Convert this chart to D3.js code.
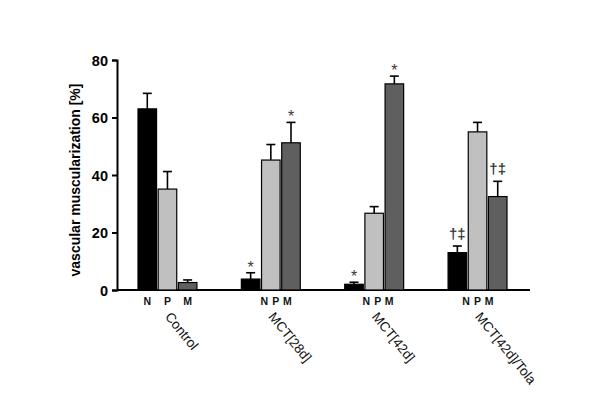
<!DOCTYPE html>
<html>
<head>
<meta charset="utf-8">
<script src="https://cdn.jsdelivr.net/npm/d3@7"></script>
<style>
  body { margin: 0; background: #fff; }
  text { font-family: Arial, "Liberation Sans", sans-serif; }
</style>
</head>
<body>
<div id="chart"></div>
<script>
// Vascular muscularization bar chart (N / P / M per group)

const groups = ["Control", "MCT[28d]", "MCT[42d]", "MCT[42d]/Tola"];
const types = ["N", "P", "M"];
const means = [
    [63.0, 35.1, 2.6],
    [3.8, 45.2, 51.2],
    [2.0, 26.7, 71.7],
    [13.0, 55.0, 32.5]
];
const errors = [
    [5.4, 6.1, 0.9],
    [2.2, 5.4, 7.1],
    [0.7, 2.3, 2.7],
    [2.3, 3.3, 5.3]
];
// significance marks above each bar
const marks = [
    ["", "", ""],
    ["*", "", "*"],
    ["*", "", "*"],
    ["†‡", "", "†‡"]
];
// where the N P M letters sit under each group (offset from group centre)
const labelShift = [0, 5, 3.5, 0];
const yTicks = [0, 20, 40, 60, 80];
const fills = { N: "#000000", P: "#c0c0c0", M: "#5f5f5f" };

const width = 600, height = 420;
const margin = { left: 117, right: 70, top: 60, bottom: 130 };

const svg = d3.select("#chart").append("svg")
    .attr("width", width)
    .attr("height", height);

const x0 = d3.scaleBand()
    .domain(groups)
    .range([138, 507])
    .paddingInner(0.43)
    .paddingOuter(0);

const x1 = d3.scaleBand()
    .domain(types)
    .range([0, x0.bandwidth()])
    .paddingInner(0.08);

const y = d3.scaleLinear()
    .domain([0, 80])
    .range([height - margin.bottom, margin.top]);

// y axis
const yAxis = svg.append("g")
    .attr("transform", `translate(${margin.left},0)`)
    .call(d3.axisLeft(y).tickValues(yTicks).tickSize(5).tickPadding(4));
yAxis.select(".domain").attr("stroke-width", 2);
yAxis.selectAll(".tick line").attr("stroke-width", 2);
yAxis.selectAll(".tick text")
    .attr("font-size", 14.5)
    .attr("font-weight", "bold")
    .attr("font-family", "Arial, 'Liberation Sans', sans-serif")
    .attr("dy", "0.36em");

// x baseline
svg.append("line")
    .attr("x1", margin.left)
    .attr("x2", width - margin.right)
    .attr("y1", y(0))
    .attr("y2", y(0))
    .attr("stroke", "#000")
    .attr("stroke-width", 2);

svg.append("text")
    .attr("transform", `translate(80,${(y(0) + y(80)) / 2 + 5}) rotate(-90)`)
    .attr("text-anchor", "middle")
    .attr("font-size", 14)
    .attr("font-weight", "bold")
    .text("vascular muscularization [%]");

const rows = [];
groups.forEach((g, gi) => {
    types.forEach((t, ti) => {
        rows.push({ g, t, v: means[gi][ti], e: errors[gi][ti], m: marks[gi][ti] });
    });
});

const barG = svg.append("g");
const cx = d => x0(d.g) + x1(d.t) + x1.bandwidth() / 2;

// error bars (drawn under the bars)
const errG = barG.selectAll("g.err")
    .data(rows)
    .join("g")
    .attr("class", "err")
    .attr("stroke", "#000")
    .attr("stroke-width", 1.6);
errG.append("line")
    .attr("x1", cx)
    .attr("x2", cx)
    .attr("y1", d => y(d.v))
    .attr("y2", d => y(d.v + d.e));
errG.append("line")
    .attr("x1", d => cx(d) - 4.5)
    .attr("x2", d => cx(d) + 4.5)
    .attr("y1", d => y(d.v + d.e))
    .attr("y2", d => y(d.v + d.e));

barG.selectAll("rect")
    .data(rows)
    .join("rect")
    .attr("x", d => x0(d.g) + x1(d.t))
    .attr("width", x1.bandwidth())
    .attr("y", d => y(d.v))
    .attr("height", d => y(0) - y(d.v))
    .attr("fill", d => fills[d.t])
    .attr("stroke", "#000")
    .attr("stroke-width", 1.2);

// significance marks
barG.selectAll("text.sig")
    .data(rows.filter(d => d.m))
    .join("text")
    .attr("class", "sig")
    .attr("x", cx)
    .attr("y", d => y(d.v + d.e) - (d.m === "*" ? 0 : 7))
    .attr("text-anchor", "middle")
    .attr("font-size", d => d.m === "*" ? 16 : 15)
    .attr("font-weight", d => d.m === "*" ? "normal" : "bold")
    .attr("fill", "#3a3a3a")
    .text(d => d.m);

// N P M labels under each group
const labelRows = [];
groups.forEach((g, gi) => {
    types.forEach((t, ti) => {
        const center = x0(g) + x0.bandwidth() / 2;
        const xPos = gi === 0
            ? x0(g) + x1(t) + x1.bandwidth() / 2
            : center + labelShift[gi] + (ti - 1) * 11.5;
        labelRows.push({ t, xPos });
    });
});
svg.append("g").selectAll("text")
    .data(labelRows)
    .join("text")
    .attr("x", d => d.xPos)
    .attr("y", y(0) + 14.5)
    .attr("text-anchor", "middle")
    .attr("font-size", 10.5)
    .attr("font-weight", "bold")
    .attr("fill", "#111")
    .text(d => d.t);

// rotated group names
svg.append("g").selectAll("text")
    .data(groups)
    .join("text")
    .attr("transform", d => `translate(${x0(d) + x0.bandwidth() / 2 - 3},${y(0) + 27}) rotate(51)`)
    .attr("font-size", 13.5)
    .attr("fill", "#111")
    .text(d => d);
</script>
</body>
</html>
